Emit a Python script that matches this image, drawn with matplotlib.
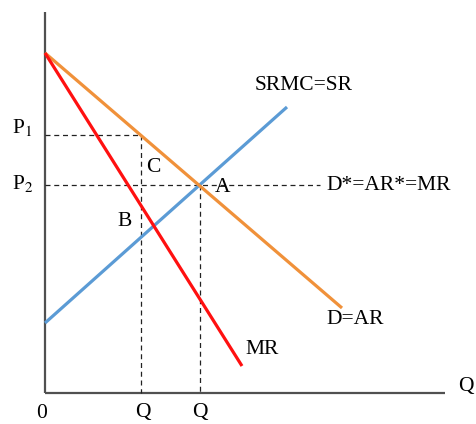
import matplotlib
matplotlib.use("Agg")
import matplotlib.pyplot as plt

plt.rcParams['font.family'] = ['Liberation Serif', 'DejaVu Serif']
plt.rcParams['mathtext.fontset'] = 'stix'

# Curves: quantity / price endpoints
demand_q = [0, 297]
demand_p = [340, 85]
mr_q = [0, 197]
mr_p = [340, 27]
srmc_q = [0, 242]
srmc_p = [70, 286]

# Key points
q1, p1 = 96, 258     # point C on demand
qa, p2 = 155, 208    # point A (SRMC meets demand)
d_star_end = 275     # end of D*=AR*=MR dashed line

x_axis_end = 400
y_axis_top = 381

ORANGE = '#F0913A'
BLUE = '#5B9BD5'
RED = '#FF1010'
AXIS = '#505050'

fig = plt.figure(figsize=(4.76, 4.24), dpi=100)
ax = fig.add_axes([0, 0, 1, 1])
ax.set_xlim(-45, 431)
ax.set_ylim(-31, 393)
ax.axis('off')

# axes
ax.plot([0, 0], [0, y_axis_top], color=AXIS, lw=1.6, solid_capstyle='butt')
ax.plot([0, x_axis_end], [0, 0], color=AXIS, lw=1.6, solid_capstyle='butt')

# dashed guide lines
dash = dict(color='#222222', lw=0.9, ls=(0, (4, 3)))
ax.plot([0, q1], [p1, p1], **dash)
ax.plot([q1, q1], [p1, 0], **dash)
ax.plot([0, d_star_end], [p2, p2], **dash)
ax.plot([qa, qa], [p2, 0], **dash)

# curves
ax.plot(srmc_q, srmc_p, color=BLUE, lw=2.3, solid_capstyle='butt')
ax.plot(demand_q, demand_p, color=ORANGE, lw=2.3, solid_capstyle='butt')
ax.plot(mr_q, mr_p, color=RED, lw=2.3, solid_capstyle='butt')

fs = 15.5
ax.text(-23, 266, r'P$_1$', fontsize=fs, ha='center', va='center')
ax.text(-22, 210, r'P$_2$', fontsize=fs, ha='center', va='center')
ax.text(108, 225, 'C', fontsize=fs, ha='center', va='center')
ax.text(80, 171, 'B', fontsize=fs, ha='center', va='center')
ax.text(178, 206, 'A', fontsize=fs, ha='center', va='center')
ax.text(281, 208, 'D*=AR*=MR', fontsize=fs, ha='left', va='center')
ax.text(210, 307, 'SRMC=SR', fontsize=fs, ha='left', va='center')
ax.text(281, 73, 'D=AR', fontsize=fs, ha='left', va='center')
ax.text(200, 44, 'MR', fontsize=fs, ha='left', va='center')
ax.text(-3, -20, '0', fontsize=fs, ha='center', va='center')
ax.text(98, -20, 'Q', fontsize=fs, ha='center', va='center')
ax.text(155, -20, 'Q', fontsize=fs, ha='center', va='center')
ax.text(413, 6, 'Q', fontsize=fs, ha='left', va='center')

fig.savefig('out.png', dpi=100)
